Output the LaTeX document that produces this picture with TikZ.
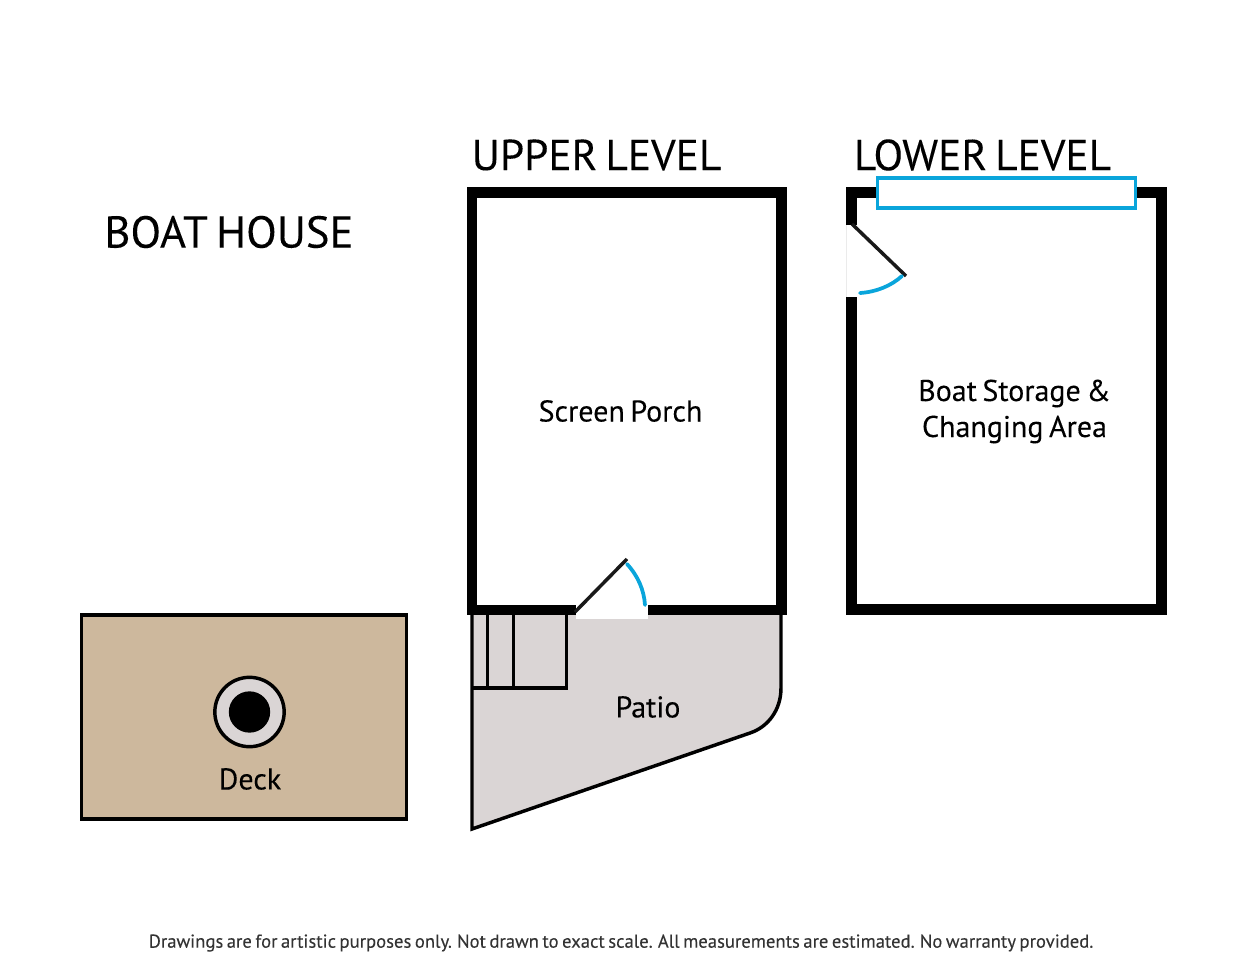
\documentclass[tikz,border=0pt]{standalone}
\usepackage{fontspec}
\setmainfont[WordSpace=0.7,FakeBold=0.12]{PT Sans}
\definecolor{patiogrey}{HTML}{DAD5D5}
\definecolor{decktan}{HTML}{CDB89D}
\definecolor{swingblue}{HTML}{0AA5DB}
\tikzset{
  heading/.style={inner sep=0pt, font=\fontsize{32.5}{36}\selectfont},
  roomlabel/.style={inner sep=0pt, align=center, font=\fontsize{22.5}{27}\selectfont},
  wall/.style={line width=8.2pt, miter limit=10},
  thin wall/.style={line width=2.6pt, line join=miter},
  leaf/.style={line width=2.6pt, draw=black!90},
  swing/.style={line width=2.8pt, draw=swingblue, line cap=round}
}
\begin{document}
\begin{tikzpicture}[x=.75pt,y=-.75pt]
    \useasboundingbox (0,0) rectangle (1242,960);
    % headings
    \node (boathouse) at (229,232) [heading, font=\fontsize{33.5}{36}\selectfont] {BOAT HOUSE};
    \node (upper) at (596.5,155) [heading] {UPPER LEVEL};
    \node (lower) at (982.5,155) [heading] {LOWER LEVEL};
    % deck
    \draw[thin wall, fill=decktan] (81.5,615) rectangle (406.5,819);
    \node (firepit) at (249.5,712) [circle, draw, thin wall, fill=patiogrey,
      minimum size=52pt, inner sep=0pt] {};
    \node (pit) at (firepit) [circle, fill=black, minimum size=31pt, inner sep=0pt] {};
    \node (deck) at (250,779) [roomlabel] {Deck};
    % patio and steps
    \draw[thin wall, fill=patiogrey] (472,612) -- (781,612) -- (781,688)
      .. controls (781,710) and (768,727) .. (750,733) -- (472,829) -- cycle;
    \draw[thin wall] (472,688) -- (566.5,688) -- (566.5,612);
    \draw[thin wall] (487.5,612) -- (487.5,688);
    \draw[thin wall] (513.5,612) -- (513.5,688);
    \node (patio) at (648,707) [roomlabel] {Patio};
    % upper level
    \draw[wall] (576,610) -- (472,610) -- (472,192.5) -- (781.5,192.5)
      -- (781.5,610) -- (648,610);
    \fill[white] (576,604) rectangle (648,619);
    \draw[leaf] (575,612) -- (627,559);
    \draw[swing] (627,564) .. controls (638,576) and (644,590) .. (645,605);
    \node (porch) at (620.5,411) [roomlabel] {Screen Porch};
    % lower level
    \draw[wall] (851.5,225) -- (851.5,192.5) -- (1161.5,192.5) -- (1161.5,609.5)
      -- (851.5,609.5) -- (851.5,297);
    \draw[black!8, line width=.5pt] (846.5,225) -- (846.5,297);
    \draw[line width=2.6pt, draw=swingblue, fill=white] (877.5,178) rectangle (1135.5,208);
    \draw[leaf] (852,224) -- (906,276);
    \draw[swing] (860,293) .. controls (876,292) and (891,286) .. (902,276);
    \node (storage) at (1014.5,411.5) [roomlabel] {Boat Storage \&\\Changing Area};
    % footer
    \node (note) at (621,943) [inner sep=0pt, text=black!80,
      font=\fontsize{14}{16}\selectfont]
      {Drawings are for artistic purposes only. Not drawn to exact scale. All measurements are estimated. No warranty provided.};
\end{tikzpicture}
\end{document}
